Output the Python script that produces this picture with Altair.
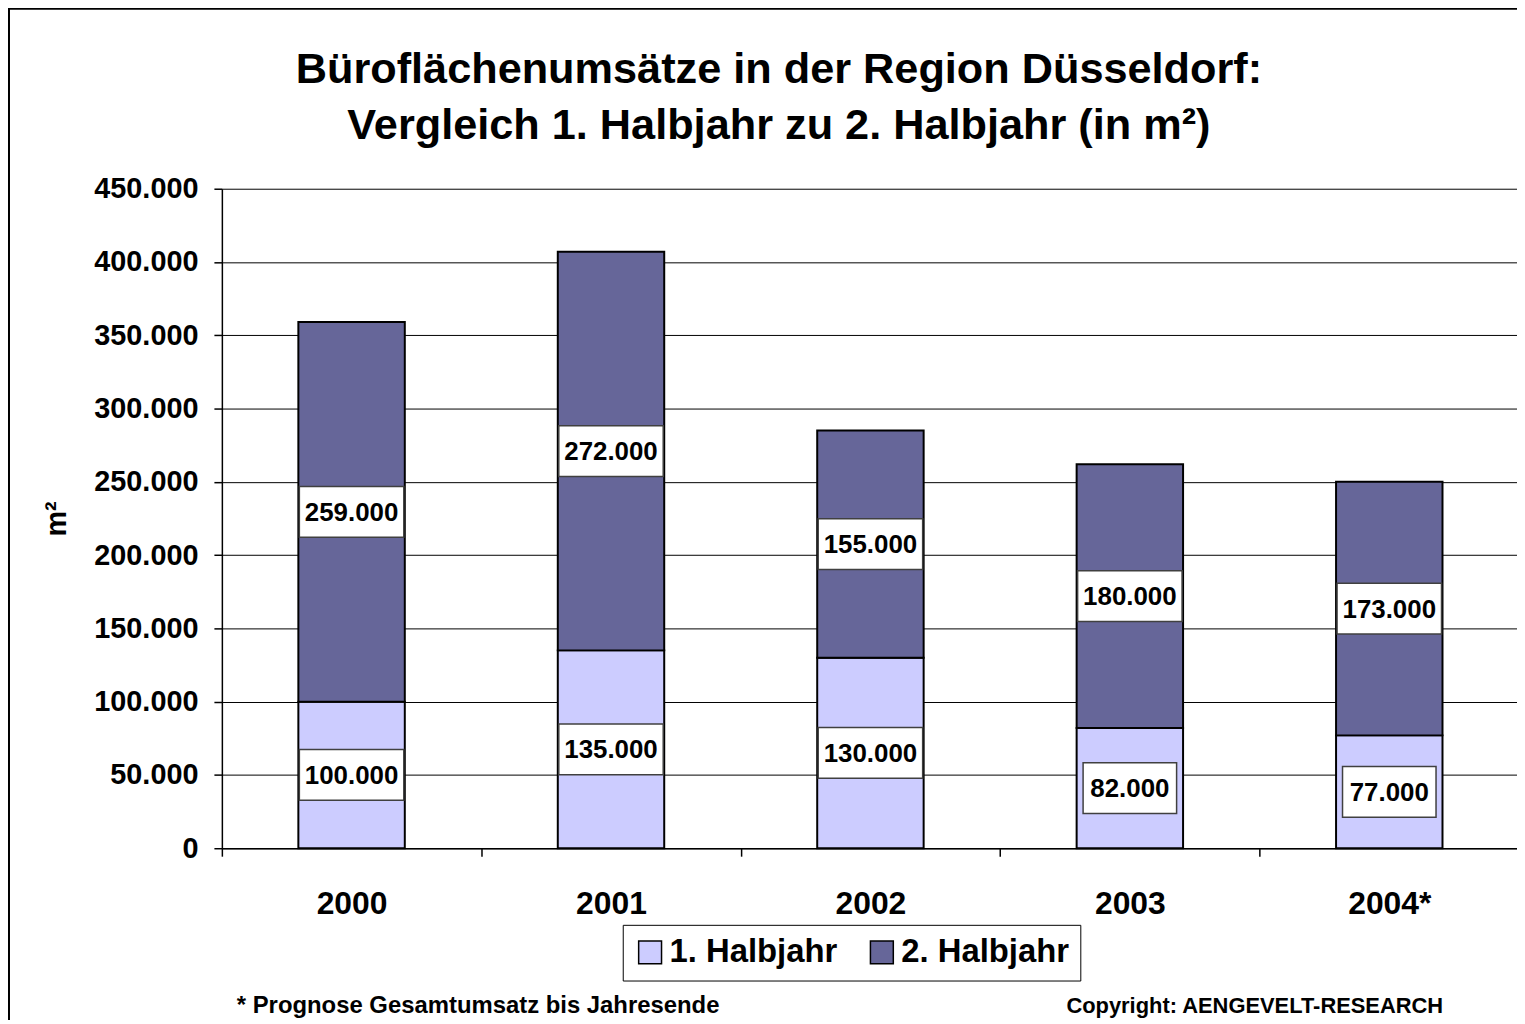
import altair as alt
import pandas as pd

years = ["2000", "2001", "2002", "2003", "2004*"]
first_half = [100000, 135000, 130000, 82000, 77000]
second_half = [259000, 272000, 155000, 180000, 173000]
series_names = ["1. Halbjahr", "2. Halbjahr"]
series_colors = ["#CCCCFF", "#666699"]
y_ticks = [0, 50000, 100000, 150000, 200000, 250000, 300000, 350000, 400000, 450000]
title_lines = ["Büroflächenumsätze in der Region Düsseldorf:",
               "Vergleich 1. Halbjahr zu 2. Halbjahr (in m²)"]
y_title = "m²"
footnote = "* Prognose Gesamtumsatz bis Jahresende"
copyright_text = "Copyright: AENGEVELT-RESEARCH"

FONT = "Liberation Sans"

rows = []
for i, yr in enumerate(years):
    rows.append({"year": yr, "series": series_names[0], "ord": 0, "value": first_half[i]})
    rows.append({"year": yr, "series": series_names[1], "ord": 1, "value": second_half[i]})
df = pd.DataFrame(rows)
dummy = pd.DataFrame({"d": [0]})

W, H = 1304, 663

fmt = "datum.value == 0 ? '0' : format(datum.value / 1000, 'd') + '.000'"

xenc = alt.X(
    "year:N", sort=years, title=None,
    scale=alt.Scale(type="band", paddingInner=0, paddingOuter=0),
    axis=alt.Axis(labelFont=FONT, labelFontSize=32, labelFontWeight="bold", labelColor="black",
                  labelPadding=33, labelAngle=0, tickBand="extent", tickSize=8, tickColor="black",
                  tickWidth=1.5, domainColor="black", domainWidth=1.5, grid=False),
)

yscale = alt.Scale(domain=[0, 450000], nice=False, zero=True)


def yaxis():
    return alt.Axis(values=y_ticks, labelExpr=fmt, labelFont=FONT, labelFontSize=29,
                    labelFontWeight="bold", labelColor="black", labelPadding=16,
                    tickSize=8, tickColor="black", tickWidth=1.5, domainColor="black",
                    domainWidth=1.5, grid=True, gridColor="black", gridWidth=1,
                    title=y_title, titleFont=FONT, titleFontSize=29, titleFontWeight="bold",
                    titleColor="black", titlePadding=22)


base = alt.Chart(df).transform_stack(
    stack="value", groupby=["year"], as_=["v0", "v1"],
    sort=[alt.SortField("ord", order="ascending")]
).transform_calculate(
    mid="(datum.v0 + datum.v1) / 2",
    label="format(datum.value / 1000, 'd') + '.000'",
)

bars = base.mark_bar(size=107, stroke="black", strokeWidth=2).encode(
    x=xenc,
    y=alt.Y("v0:Q", scale=yscale, axis=yaxis(), title=y_title),
    y2="v1:Q",
    color=alt.Color("series:N", scale=alt.Scale(domain=series_names, range=series_colors),
                    legend=alt.Legend(orient="none", legendX=403, legendY=740,
                                      direction="horizontal", title=None,
                                      labelFont=FONT, labelFontSize=33, labelFontWeight="bold",
                                      labelColor="black", labelLimit=0,
                                      symbolType="square", symbolSize=529,
                                      symbolStrokeColor="black", symbolStrokeWidth=1.5,
                                      strokeColor="black", fillColor="white", padding=11,
                                      columnPadding=28, labelOffset=3)),
)

box7 = base.transform_filter("length(datum.label) == 7").mark_point(
    shape="M-1,-0.486H1V0.486H-1Z", size=105 * 105, filled=True, fill="white",
    stroke="#404040", strokeWidth=1.5, opacity=1,
).encode(x=xenc, y=alt.Y("mid:Q", scale=yscale, axis=yaxis(), title=y_title))

box6 = base.transform_filter("length(datum.label) == 6").mark_point(
    shape="M-1,-0.543H1V0.543H-1Z", size=94 * 94, filled=True, fill="white",
    stroke="#404040", strokeWidth=1.5, opacity=1,
).encode(x=xenc, y=alt.Y("mid:Q", scale=yscale, axis=yaxis(), title=y_title))

labels = base.mark_text(font=FONT, fontSize=26, fontWeight="bold", color="black",
                        baseline="middle", align="center", dy=1).encode(
    x=xenc, y=alt.Y("mid:Q", scale=yscale, axis=yaxis(), title=y_title), text="label:N")

frame = alt.Chart(dummy).mark_rect(filled=False, stroke="black", strokeWidth=2).encode(
    x=alt.value(-214), x2=alt.value(1400), y=alt.value(-181), y2=alt.value(1000))

t1 = alt.Chart(dummy).mark_text(text=title_lines[0], font=FONT, fontSize=43.5, fontWeight="bold",
                                color="black", align="center", baseline="alphabetic").encode(
    x=alt.value(560), y=alt.value(-106))
t2 = alt.Chart(dummy).mark_text(text=title_lines[1], font=FONT, fontSize=43.5, fontWeight="bold",
                                color="black", align="center", baseline="alphabetic").encode(
    x=alt.value(560), y=alt.value(-50))

foot = alt.Chart(dummy).mark_text(text=footnote, font=FONT, fontSize=24, fontWeight="bold",
                                  color="black", align="left", baseline="alphabetic").encode(
    x=alt.value(15), y=alt.value(829))
copy = alt.Chart(dummy).mark_text(text=copyright_text, font=FONT, fontSize=22, fontWeight="bold",
                                  color="black", align="left", baseline="alphabetic").encode(
    x=alt.value(849), y=alt.value(829))

chart = alt.layer(frame, bars, box7, box6, labels, t1, t2, foot, copy).properties(
    width=W, height=H,
    autosize=alt.AutoSizeParams(type="none"),
    padding={"left": 215, "top": 179, "right": -2, "bottom": 170},
    background="white",
).configure_view(stroke=None)

chart.save("out.html", embed_options={"renderer": "svg", "actions": False})
